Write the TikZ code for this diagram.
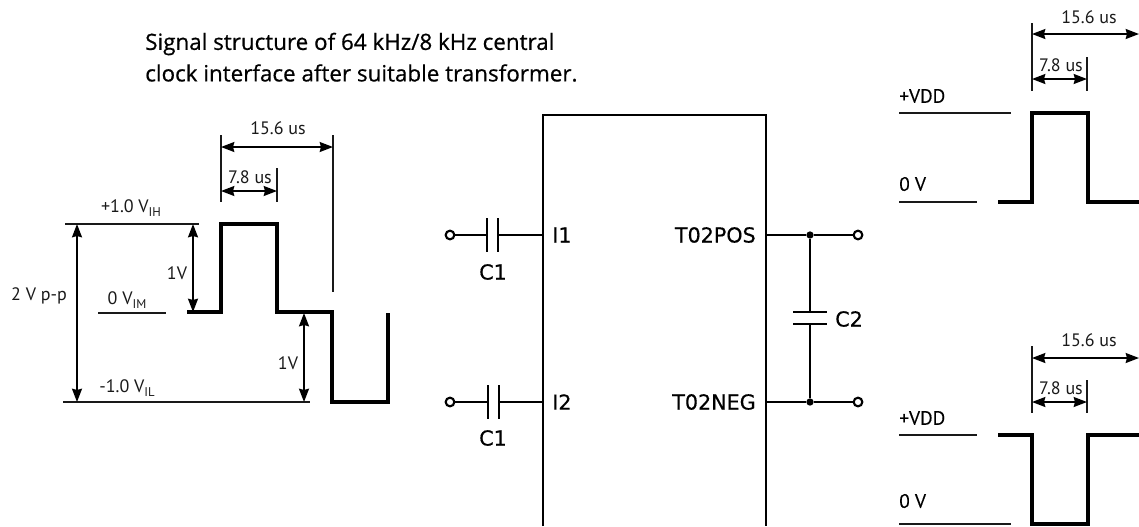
\documentclass[tikz,border=0pt]{standalone}
\usepackage{fontspec}
\setmainfont{PT Sans}
\newfontfamily\labfont[FakeBold=0.5]{DejaVu Sans}
\newfontfamily\headfont[FakeBold=0.6]{Open Sans}
\newfontfamily\railfont[FakeBold=0.2]{PT Sans}
\usetikzlibrary{arrows.meta}
\tikzset{
  x=0.75pt,y=-0.75pt,
  thin line/.style={line width=1.25pt,black!90,line cap=butt},
  dim/.style={line width=1.25pt,{Stealth[length=10pt,width=7.5pt,inset=1pt]}-{Stealth[length=10pt,width=7.5pt,inset=1pt]}},
  wave/.style={line width=3.2pt,miter limit=10,line join=miter},
  wire/.style={line width=1.6pt},
  plate/.style={line width=1.8pt},
  term/.style={circle,draw,line width=1.6pt,fill=white,inner sep=0pt,minimum size=6.5pt},
  junc/.style={circle,fill=black,inner sep=0pt,minimum size=5.5pt},
  lab/.style={inner sep=0pt,font=\fontsize{13.5}{15}\selectfont,text=black!90},
  rail/.style={inner sep=0pt,anchor=west,font=\railfont\fontsize{14.5}{16}\selectfont},
  pin/.style={inner sep=0pt,font=\labfont\fontsize{15.5}{17}\selectfont},
  head/.style={inner sep=0pt,anchor=west,font=\headfont\fontsize{16.8}{19}\selectfont},
}
\newcommand{\subs}[1]{\raisebox{-2.5pt}{\fontsize{9.5}{9.5}\selectfont #1}}
\begin{document}
\begin{tikzpicture}
\useasboundingbox (0,0) rectangle (1139,526);
% header
\node[head] (h1) at (145,44) {Signal structure of 64 kHz/8 kHz central};
\node[head] (h2) at (145,73) {clock interface after suitable transformer.};
% left waveform
\coordinate (a1) at (221,135); \coordinate (a2) at (221,202);
\coordinate (a3) at (333,135); \coordinate (a4) at (333,292);
\coordinate (a5) at (277,168); \coordinate (a6) at (277,202);
\draw[thin line] (a1)--(a2);
\draw[thin line] (a3)--(a4);
\draw[thin line] (a5)--(a6);
\coordinate (b1) at (221,147); \coordinate (b2) at (333,147);
\coordinate (b3) at (221,191); \coordinate (b4) at (277,191);
\draw[dim] (b1)--(b2);
\draw[dim] (b3)--(b4);
\node[lab] (t156a) at (278,128) {15.6 us};
\node[lab] (t78a) at (250,177) {7.8 us};
\coordinate (c1) at (65,224); \coordinate (c2) at (199,224);
\coordinate (c3) at (98,313); \coordinate (c4) at (166,313);
\coordinate (c5) at (63,402); \coordinate (c6) at (310,402);
\draw[thin line] (c1)--(c2);
\draw[thin line] (c3)--(c4);
\draw[thin line] (c5)--(c6);
\coordinate (d1) at (77,224); \coordinate (d2) at (77,402);
\coordinate (d3) at (193,224); \coordinate (d4) at (193,312);
\coordinate (d5) at (304,313); \coordinate (d6) at (304,402);
\draw[dim] (d1)--(d2);
\draw[dim] (d3)--(d4);
\draw[dim] (d5)--(d6);
\node[lab] (tih) at (131,208) {+1.0 V\subs{IH}};
\node[lab] (tim) at (127,300) {0 V\subs{IM}};
\node[lab] (til) at (127,388) {-1.0 V\subs{IL}};
\node[lab] (tpp) at (39,296) {2 V p-p};
\node[lab] (t1a) at (177,273) {1V};
\node[lab] (t1b) at (288,363) {1V};
\coordinate (w1) at (187,312); \coordinate (w2) at (221,312); \coordinate (w3) at (221,224);
\coordinate (w4) at (277,224); \coordinate (w5) at (277,312); \coordinate (w6) at (332,312);
\coordinate (w7) at (332,402); \coordinate (w8) at (388,402); \coordinate (w9) at (388,313);
\draw[wave] (w1)--(w2)--(w3)--(w4)--(w5)--(w6)--(w7)--(w8)--(w9);
% chip
\coordinate (k1) at (543,526); \coordinate (k2) at (543,115);
\coordinate (k3) at (766,115); \coordinate (k4) at (766,526);
\draw[wire] (k1)--(k2)--(k3)--(k4);
\node[pin,anchor=west] (i1) at (552,235) {I1};
\node[pin,anchor=west] (i2) at (552,402) {I2};
\node[pin,anchor=east] (tp) at (756,235) {T02POS};
\node[pin,anchor=east] (tn) at (756,402) {T02NEG};
\node[pin] (c1a) at (493,272) {C1};
\node[pin] (c1b) at (493,438) {C1};
\node[pin,anchor=west] (c2l) at (835,319) {C2};
% input caps
\node[term] (ti1) at (450,235) {};
\node[term] (ti2) at (450,402) {};
\coordinate (p1a) at (487,235); \coordinate (p1b) at (498,235); \coordinate (e1) at (543,235);
\coordinate (p2a) at (488,402); \coordinate (p2b) at (499,402); \coordinate (e2) at (543,402);
\draw[wire] (ti1)--(p1a);
\draw[wire] (p1b)--(e1);
\draw[wire] (ti2)--(p2a);
\draw[wire] (p2b)--(e2);
\draw[plate] (487,218)--(487,252);
\draw[plate] (498,218)--(498,252);
\draw[plate] (488,385)--(488,419);
\draw[plate] (499,385)--(499,419);
% output
\coordinate (o1) at (766,235); \coordinate (o2) at (766,402);
\node[junc] (j1) at (810,235) {};
\node[junc] (j2) at (810,402) {};
\node[term] (to1) at (858,235) {};
\node[term] (to2) at (858,402) {};
\draw[wire] (o1)--(j1)--(to1);
\draw[wire] (o2)--(j2)--(to2);
\coordinate (q1) at (810,312); \coordinate (q2) at (810,324);
\draw[wire] (j1)--(q1);
\draw[wire] (q2)--(j2);
\draw[plate] (793,312)--(827,312);
\draw[plate] (793,324)--(827,324);
% top right waveform
\coordinate (r1) at (1032,23); \coordinate (r2) at (1032,91);
\coordinate (r3) at (1087,57); \coordinate (r4) at (1087,91);
\draw[thin line] (r1)--(r2);
\draw[thin line] (r3)--(r4);
\coordinate (s1) at (1032,34); \coordinate (s2) at (1139,34);
\coordinate (s3) at (1032,79); \coordinate (s4) at (1087,79);
\draw[dim] (s1)--(s2);
\draw[dim] (s3)--(s4);
\node[lab] (t156b) at (1089,17) {15.6 us};
\node[lab] (t78b) at (1061,65) {7.8 us};
\node[rail] (tv1) at (899,96) {+VDD};
\node[rail] (t01) at (899,184) {0 V};
\coordinate (l1) at (899,113); \coordinate (l2) at (1011,113);
\coordinate (l3) at (899,202); \coordinate (l4) at (977,202);
\draw[thin line] (l1)--(l2);
\draw[thin line] (l3)--(l4);
\coordinate (u1) at (998,202); \coordinate (u2) at (1032,202); \coordinate (u3) at (1032,113);
\coordinate (u4) at (1088,113); \coordinate (u5) at (1088,202); \coordinate (u6) at (1139,202);
\draw[wave] (u1)--(u2)--(u3)--(u4)--(u5)--(u6);
% bottom right waveform
\coordinate (r5) at (1032,346); \coordinate (r6) at (1032,413);
\coordinate (r7) at (1087,380); \coordinate (r8) at (1087,413);
\draw[thin line] (r5)--(r6);
\draw[thin line] (r7)--(r8);
\coordinate (s5) at (1032,358); \coordinate (s6) at (1139,358);
\coordinate (s7) at (1032,402); \coordinate (s8) at (1087,402);
\draw[dim] (s5)--(s6);
\draw[dim] (s7)--(s8);
\node[lab] (t156c) at (1089,340) {15.6 us};
\node[lab] (t78c) at (1061,388) {7.8 us};
\node[rail] (tv2) at (899,418) {+VDD};
\node[rail] (t02) at (899,501) {0 V};
\coordinate (l5) at (899,435); \coordinate (l6) at (977,435);
\coordinate (l7) at (899,524); \coordinate (l8) at (1011,524);
\draw[thin line] (l5)--(l6);
\draw[thin line] (l7)--(l8);
\coordinate (v1) at (998,435); \coordinate (v2) at (1032,435); \coordinate (v3) at (1032,524);
\coordinate (v4) at (1088,524); \coordinate (v5) at (1088,435); \coordinate (v6) at (1139,435);
\draw[wave] (v1)--(v2)--(v3)--(v4)--(v5)--(v6);
\end{tikzpicture}
\end{document}
